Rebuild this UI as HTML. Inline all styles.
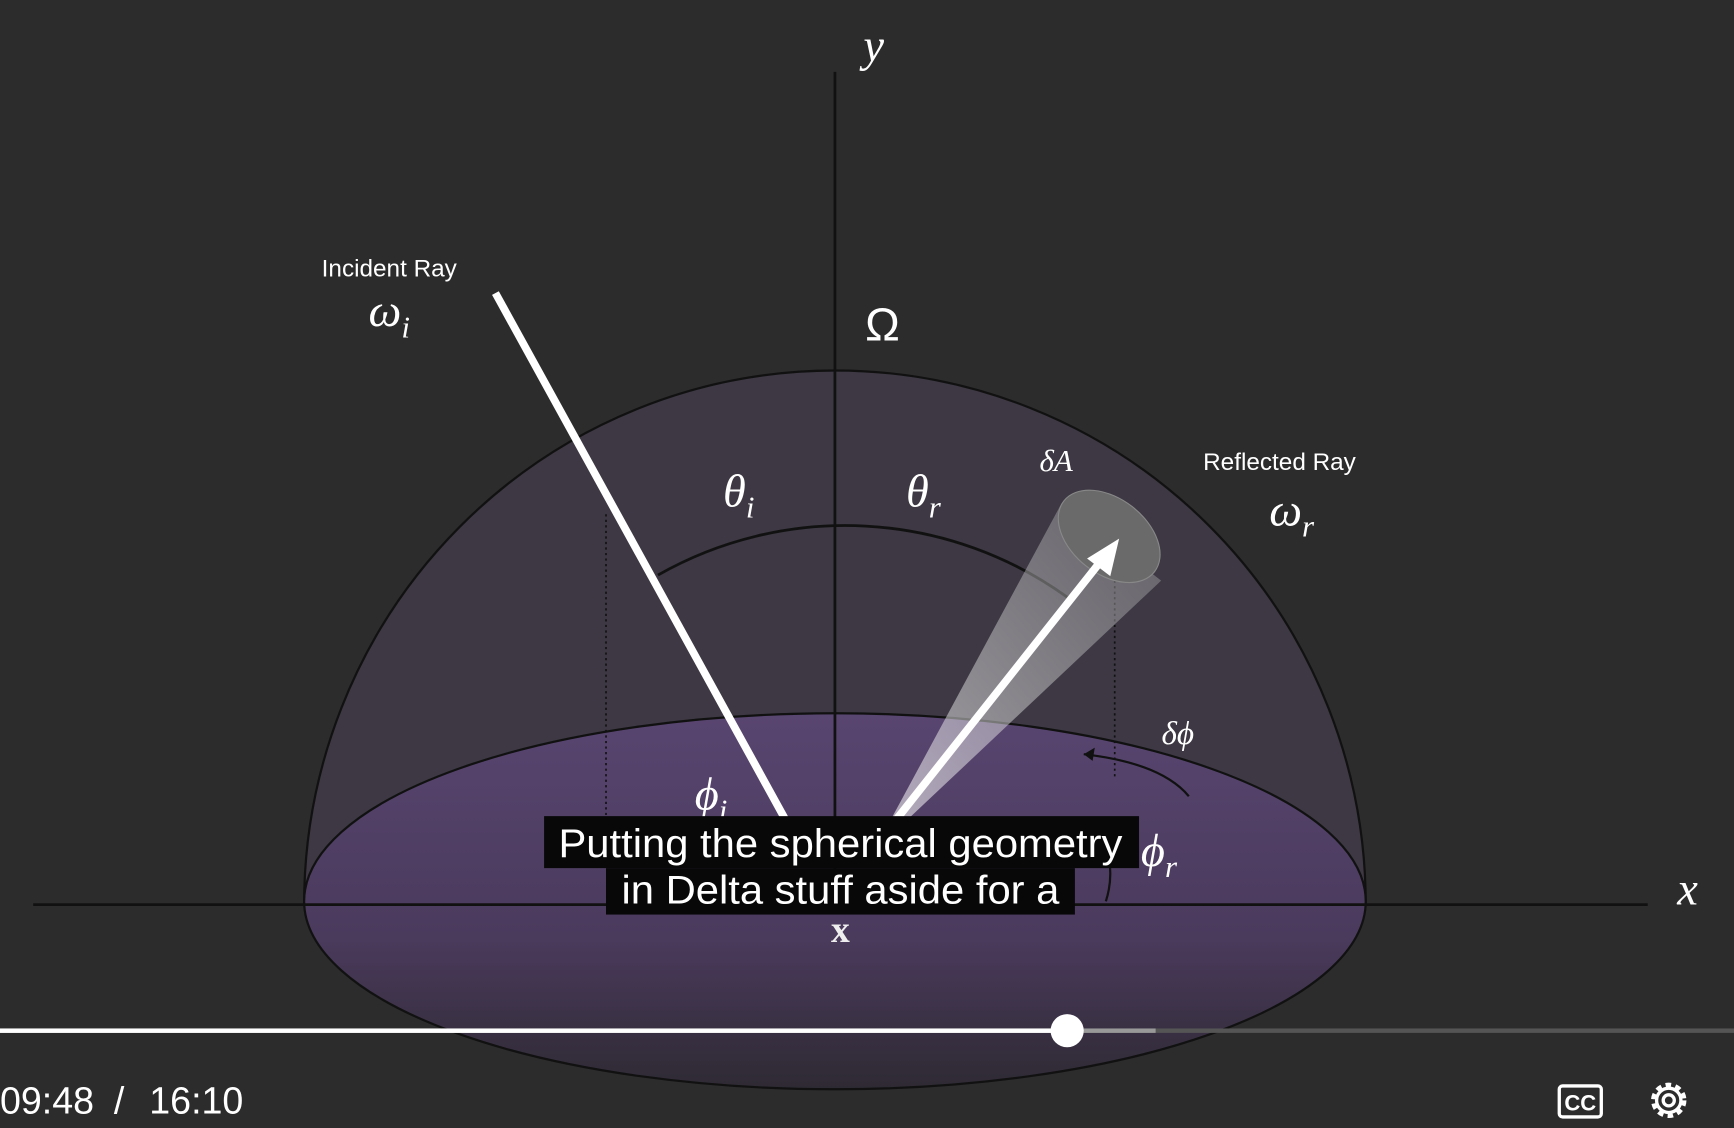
<!DOCTYPE html>
<html><head><meta charset="utf-8"><style>
html,body{margin:0;padding:0;background:#2b2b2b;}
svg{display:block;}
.m{font-family:"Liberation Serif",serif;font-style:italic;fill:#fff;}
.s{font-family:"Liberation Sans",sans-serif;fill:#fff;}
</style></head><body>
<svg width="1734" height="1128" viewBox="0 0 1568 1020" xmlns="http://www.w3.org/2000/svg">
<defs>
<linearGradient id="base" x1="0" y1="0" x2="0" y2="1">
<stop offset="0" stop-color="#584570"/><stop offset="0.6" stop-color="#4a3a5c"/><stop offset="1" stop-color="#2e2a33"/></linearGradient>
<linearGradient id="cone" x1="0" y1="1" x2="1" y2="0">
<stop offset="0" stop-color="#fff" stop-opacity="0.85"/><stop offset="1" stop-color="#bbb" stop-opacity="0.45"/></linearGradient>
</defs>
<rect width="1568" height="1020" fill="#2c2c2c"/>
<path d="M275,818 A480,483 0 0 1 1235,818 Z" fill="#3d3843" stroke="#111" stroke-width="2"/>
<ellipse cx="755" cy="815" rx="480" ry="170" fill="url(#base)" stroke="#111" stroke-width="2"/>
<path d="M595,520 A343,343 0 0 1 965,540" fill="none" stroke="#111" stroke-width="2.5"/>
<line x1="548" y1="465" x2="548" y2="740" stroke="#111" stroke-width="1.5" stroke-dasharray="2,3"/>
<line x1="1008" y1="510" x2="1008" y2="705" stroke="#111" stroke-width="1.5" stroke-dasharray="2,3"/>
<line x1="30" y1="818" x2="1490" y2="818" stroke="#111" stroke-width="2.5"/>
<line x1="755" y1="65" x2="755" y2="818" stroke="#111" stroke-width="2.5"/>
<path d="M790,770 L960,455 L1050,525 Z" fill="url(#cone)" opacity="0.7"/>
<ellipse cx="1003" cy="485" rx="52" ry="34" transform="rotate(38 1003 485)" fill="#6a6a6a" stroke="#888"/>
<path d="M1075,720 Q1050,690 980,682" fill="none" stroke="#111" stroke-width="2"/>
<path d="M980,682 l10,-6 l-2,12 z" fill="#111"/>
<path d="M1000,815 Q1008,790 1000,765" fill="none" stroke="#111" stroke-width="2"/>
<line x1="448" y1="265" x2="714" y2="748" stroke="#fff" stroke-width="7"/>
<line x1="805" y1="748" x2="995" y2="508" stroke="#fff" stroke-width="7"/>
<path d="M1012,487 L983,505 L1004,521 Z" fill="#fff"/>
<text x="790" y="55" class="m" font-size="42" text-anchor="middle">y</text>
<text x="798" y="308" class="s" font-size="42" text-anchor="middle">Ω</text>
<text x="1526" y="818" class="m" font-size="42" text-anchor="middle">x</text>
<text x="352" y="250" class="s" font-size="22" text-anchor="middle">Incident Ray</text>
<text x="352" y="295" class="m" font-size="42" text-anchor="middle">ω<tspan font-size="28" dy="10">i</tspan></text>
<text x="668" y="458" class="m" font-size="42" text-anchor="middle">θ<tspan font-size="28" dy="10">i</tspan></text>
<text x="835" y="458" class="m" font-size="42" text-anchor="middle">θ<tspan font-size="28" dy="10">r</tspan></text>
<text x="955" y="426" class="m" font-size="28" text-anchor="middle">δA</text>
<text x="1157" y="425" class="s" font-size="22" text-anchor="middle">Reflected Ray</text>
<text x="1168" y="475" class="m" font-size="42" text-anchor="middle">ω<tspan font-size="28" dy="10">r</tspan></text>
<text x="1065" y="673" class="m" font-size="30" text-anchor="middle">δϕ</text>
<text x="643" y="732" class="m" font-size="42" text-anchor="middle">ϕ<tspan font-size="28" dy="10">i</tspan></text>
<text x="1048" y="783" class="m" font-size="42" text-anchor="middle">ϕ<tspan font-size="28" dy="10">r</tspan></text>
<text x="760" y="852" font-family="Liberation Serif,serif" font-weight="bold" font-size="34" fill="#eee" text-anchor="middle">x</text>
<rect x="492" y="738" width="538" height="47" fill="#080808"/>
<rect x="548" y="785" width="424" height="42" fill="#080808"/>
<text x="505" y="775" class="s" font-size="36" textLength="510" lengthAdjust="spacingAndGlyphs">Putting the spherical geometry</text>
<text x="562" y="817" class="s" font-size="36" textLength="396" lengthAdjust="spacingAndGlyphs">in Delta stuff aside for a</text>
<rect x="0" y="930" width="1568" height="4" fill="#555"/>
<rect x="0" y="930" width="1045" height="4" fill="#999"/>
<rect x="0" y="930" width="965" height="4" fill="#fff"/>
<circle cx="965" cy="932" r="15" fill="#fff"/>
<g>
<text x="0" y="1007" class="s" font-size="34">09:48</text>
<text x="103" y="1007" class="s" font-size="34">/</text>
<text x="135" y="1007" class="s" font-size="34">16:10</text>
</g>
<g>
<rect x="1410" y="982" width="38" height="28" rx="3" fill="none" stroke="#fff" stroke-width="3"/>
<text x="1429" y="1004" class="s" font-size="20" font-weight="bold" text-anchor="middle">CC</text>
</g>
<g transform="translate(1509,995)">
<circle r="14" fill="none" stroke="#fff" stroke-width="4" stroke-dasharray="5,4"/>
<circle r="11" fill="none" stroke="#fff" stroke-width="3"/>
<circle r="5" fill="none" stroke="#fff" stroke-width="3"/>
</g>
</svg>
</body></html>
